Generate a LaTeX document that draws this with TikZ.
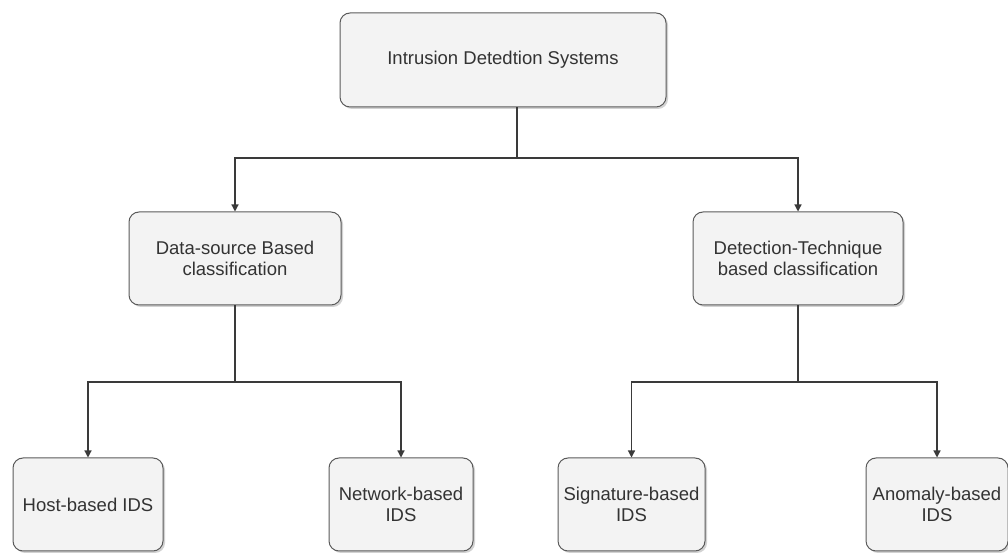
\documentclass[tikz,border=0pt]{standalone}
\usepackage{fontspec}
\setmainfont{Liberation Sans}
\usetikzlibrary{arrows.meta,shadows}
\definecolor{boxfill}{HTML}{F3F3F3}
\definecolor{boxline}{HTML}{5A5A5A}
\definecolor{edgeline}{HTML}{3A3A3A}
\definecolor{textgray}{HTML}{333333}

\begin{document}
\begin{tikzpicture}[x=1pt, y=1pt,
  every node/.style={rectangle, rounded corners=10pt, draw=boxline, fill=boxfill, line width=1pt,
    drop shadow={shadow xshift=2pt, shadow yshift=-2pt, fill=black!35},
    align=center, inner sep=0pt, text=textgray, font=\fontsize{18.5}{21}\selectfont},
  link/.style={draw=edgeline, line width=1.2pt},
  arrow/.style={link, -{Triangle[length=7pt, width=7pt]}}]

\useasboundingbox (0,0) rectangle (1008,553);

% Define nodes at fixed positions
\node[minimum width=326, minimum height=94] (ids) at (503,493) {Intrusion Detedtion Systems};
\node[minimum width=212, minimum height=93] (ds) at (235,294.5) {Data-source Based\\classification};
\node[minimum width=210, minimum height=93] (dt) at (798,294.5) {Detection-Technique\\based classification};
\node[minimum width=150, minimum height=93] (host) at (88,48.5) {Host-based IDS};
\node[minimum width=144, minimum height=93] (net) at (401,48.5) {Network-based\\IDS};
\node[minimum width=147, minimum height=93] (sig) at (631.5,48.5) {Signature-based\\IDS};
\node[minimum width=142, minimum height=93] (ano) at (937,48.5) {Anomaly-based\\IDS};

% Junction points of the tree lines
\coordinate (j0) at (517,395);
\coordinate (j1) at (235,171);
\coordinate (j2) at (798,171);

% Draw edges
\draw[link] (ids.south -| j0) -- (j0);
\draw[arrow] (j0) -| (ds.north);
\draw[arrow] (j0) -| (dt.north);
\draw[link] (ds.south) -- (j1);
\draw[arrow] (j1) -| (host.north);
\draw[arrow] (j1) -| (net.north);
\draw[link] (dt.south) -- (j2);
\draw[arrow] (j2) -| (sig.north);
\draw[arrow] (j2) -| (ano.north);

\end{tikzpicture}
\end{document}
